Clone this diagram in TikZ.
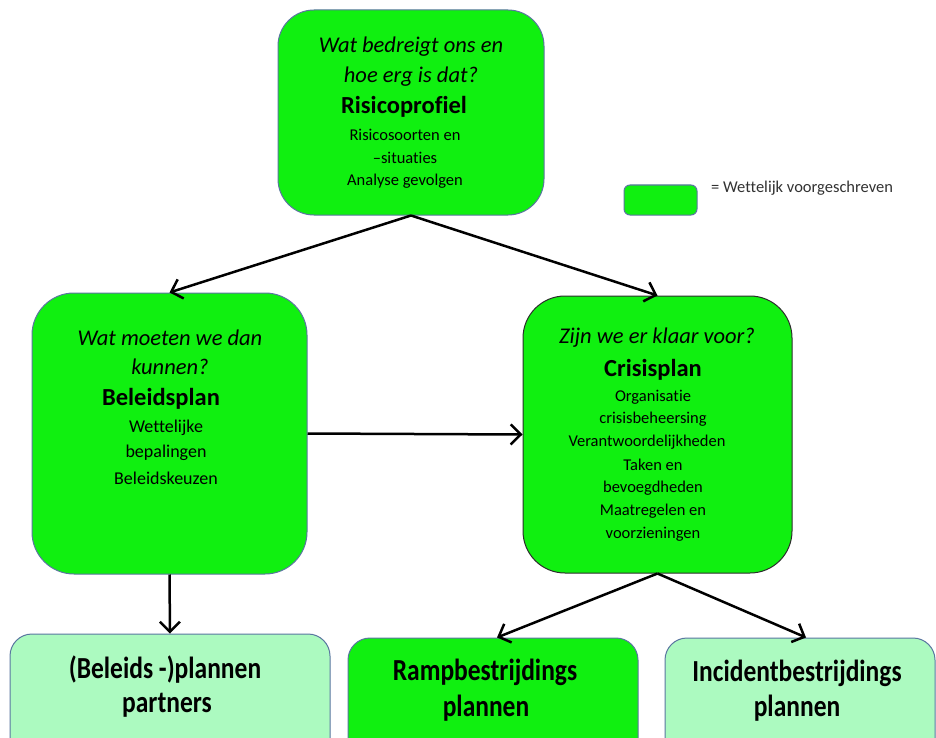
\documentclass[tikz,border=0pt]{standalone}
\usepackage{fontspec}
\setmainfont{Carlito}[Ligatures=NoCommon]
\usetikzlibrary{arrows.meta}
\definecolor{mgreen}{RGB}{16,240,16}
\definecolor{lgreen}{RGB}{172,250,192}
\definecolor{bblue}{RGB}{90,118,160}
\definecolor{dgray}{RGB}{45,45,45}
\definecolor{legtext}{RGB}{50,50,50}
\tikzset{
  box/.style={draw=bblue, line width=1pt, fill=mgreen, inner sep=0pt},
  lbox/.style={draw=bblue, line width=1pt, fill=lgreen, inner sep=0pt, rounded corners=22pt},
  arr/.style={draw=black, line width=2.5pt, -{Straight Barb[length=10pt,width=20pt,line width=2.5pt]}},
  q/.style={font=\fontsize{22.5}{26}\selectfont\itshape, inner sep=0pt},
  ttl/.style={font=\fontsize{24.5}{28}\selectfont\bfseries, inner sep=0pt},
  sm/.style={font=\fontsize{16.5}{19}\selectfont, inner sep=0pt},
  smb/.style={font=\fontsize{18}{21}\selectfont, inner sep=0pt},
  bot/.style={font=\fontsize{25.5}{28}\selectfont\bfseries, inner sep=0pt, yscale=1.2},
}
\begin{document}
\begin{tikzpicture}[x=1pt,y=-1pt]
\useasboundingbox[fill=white] (0,0) rectangle (936,738);
% boxes
\node[box, rounded corners=36pt, minimum width=266pt, minimum height=205pt] (risk) at (411,112.5) {};
\node[box, rounded corners=6pt, minimum width=73pt, minimum height=30pt] (leg) at (660.5,200) {};
\node[box, rounded corners=42pt, minimum width=275pt, minimum height=281pt] (beleid) at (169.5,433.5) {};
\node[box, draw=dgray, rounded corners=42pt, minimum width=269pt, minimum height=277pt] (crisis) at (657.5,434.5) {};
\node[lbox, minimum width=320pt, minimum height=140pt] (partners) at (170,704) {};
\node[box, rounded corners=22pt, minimum width=290pt, minimum height=140pt] (ramp) at (493,708) {};
\node[lbox, minimum width=270pt, minimum height=140pt] (incident) at (800,708) {};
% legend text
\node[font=\fontsize{16.5}{19}\selectfont, text=legtext, anchor=west, inner sep=0pt] (legt) at (711,188) {= Wettelijk voorgeschreven};
% risk text
\node[q] (r1) at (411,47) {Wat bedreigt ons en};
\node[q] (r2) at (411,77) {hoe erg is dat?};
\node[ttl] (r3) at (404,107) {Risicoprofiel};
\node[sm] (r4) at (405,135) {Risicosoorten en};
\node[sm] (r5) at (405,158) {–situaties};
\node[sm] (r6) at (405,181) {Analyse gevolgen};
% beleid text
\node[q] (b1) at (170,338) {Wat moeten we dan};
\node[q] (b2) at (170,367) {kunnen?};
\node[ttl] (b3) at (161,399) {Beleidsplan};
\node[smb] (b4) at (166,428) {Wettelijke};
\node[smb] (b5) at (166,453) {bepalingen};
\node[smb] (b6) at (166,478) {Beleidskeuzen};
% crisis text
\node[q] (c1) at (657,338) {Zijn we er klaar voor?};
\node[ttl] (c2) at (653,370) {Crisisplan};
\node[sm] (c3) at (653,397) {Organisatie};
\node[sm] (c4) at (653,419) {crisisbeheersing};
\node[sm] (c5) at (647,442) {Verantwoordelijkheden};
\node[sm] (c6) at (653,465) {Taken en};
\node[sm] (c7) at (653,488) {bevoegdheden};
\node[sm] (c8) at (653,511) {Maatregelen en};
\node[sm] (c9) at (653,534) {voorzieningen};
% bottom texts
\node[bot] (p1) at (165,670) {(Beleids -)plannen};
\node[bot] (p2) at (167,705) {partners};
\node[bot] (m1) at (485,672) {Rampbestrijdings};
\node[bot] (m2) at (486,708) {plannen};
\node[bot] (i1) at (797,673) {Incidentbestrijdings};
\node[bot] (i2) at (797,708) {plannen};
% arrows
\draw[arr] (risk.south) -- (beleid.north);
\draw[arr] (risk.south) -- (crisis.north);
\draw[arr] (beleid.east) -- (crisis.west);
\draw[arr] (beleid.south) -- (partners.north);
\draw[arr] (crisis.south) -- ([xshift=4pt]ramp.north);
\draw[arr] (crisis.south) -- ([xshift=6pt]incident.north);
\end{tikzpicture}
\end{document}
